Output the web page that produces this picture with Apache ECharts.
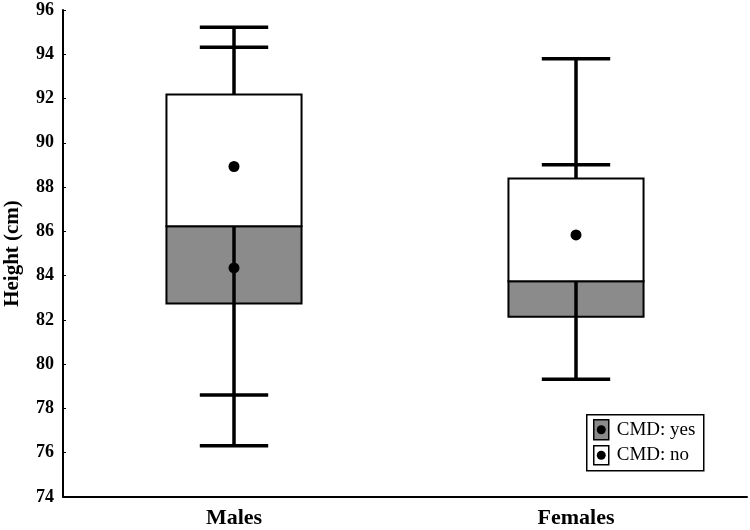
<!DOCTYPE html>
<html>
<head>
<meta charset="utf-8">
<script src="https://cdn.jsdelivr.net/npm/echarts@6/dist/echarts.min.js"></script>
<style>
	html, body { margin: 0; padding: 0; background: #fff; }
	#chart { width: 750px; height: 530px; }
</style>
</head>
<body>
<div id="chart"></div>
<script type="text/javascript">
	// 数据
	var categories = ['Males', 'Females'];
	var yTicks = [74, 96, 2];           // min, max, interval
	var yesBox = [[0, 82.74, 86.23], [1, 82.14, 83.75]];
	var noBox = [[0, 86.23, 92.18], [1, 83.75, 88.39]];
	var whiskers = [[0, 76.31, 95.22], [1, 79.32, 93.80]];
	var caps = [[0, 76.31], [0, 78.61], [0, 94.32], [0, 95.22], [1, 79.32], [1, 89.01], [1, 93.80]];
	var yesMean = [[0, 84.35]];
	var noMean = [[0, 88.93], [1, 85.84]];

	var serif = '"Liberation Serif", "DejaVu Serif", serif';
	var grey = '#8b8b8b';

	function boxRender(fill) {
		return function (params, api) {
			var lo = api.coord([api.value(0), api.value(1)]);
			var hi = api.coord([api.value(0), api.value(2)]);
			var w = api.size([1, 0])[0] * 0.395;
			return {
				type: 'rect',
				shape: { x: lo[0] - w / 2, y: hi[1], width: w, height: lo[1] - hi[1] },
				style: { fill: fill, stroke: '#000', lineWidth: 2 }
			};
		};
	}

	var myChart = echarts.init(document.getElementById('chart'));
	var option = {
		animation: false,
		grid: { left: 63, right: 3, top: 10, bottom: 33, containLabel: false, outerBoundsMode: 'none' },
		xAxis: {
			type: 'category',
			data: categories,
			axisLine: { lineStyle: { color: '#000', width: 2 } },
			axisTick: { inside: true, length: 3, alignWithLabel: true, lineStyle: { color: '#000' } },
			axisLabel: { color: '#000', fontFamily: serif, fontWeight: 'bold', fontSize: 22, margin: 10 }
		},
		yAxis: {
			type: 'value',
			min: yTicks[0],
			max: yTicks[1],
			interval: yTicks[2],
			name: 'Height (cm)',
			nameLocation: 'middle',
			nameGap: 40,
			nameTextStyle: { color: '#000', fontFamily: serif, fontWeight: 'bold', fontSize: 21 },
			splitLine: { show: false },
			axisLine: { show: true, lineStyle: { color: '#000', width: 2 } },
			axisTick: { show: true, inside: true, length: 3, lineStyle: { color: '#000' } },
			axisLabel: { color: '#000', fontFamily: serif, fontWeight: 'bold', fontSize: 18, margin: 9 }
		},
		series: [
			{
				name: 'CMD: yes',
				type: 'custom',
				z: 2,
				renderItem: boxRender(grey),
				data: yesBox
			},
			{
				type: 'custom',
				z: 3,
				renderItem: function (params, api) {
					var lo = api.coord([api.value(0), api.value(1)]);
					var hi = api.coord([api.value(0), api.value(2)]);
					return {
						type: 'line',
						shape: { x1: lo[0], y1: lo[1], x2: hi[0], y2: hi[1] },
						style: { stroke: '#000', lineWidth: 3.5 }
					};
				},
				data: whiskers
			},
			{
				type: 'custom',
				z: 3,
				renderItem: function (params, api) {
					var p = api.coord([api.value(0), api.value(1)]);
					var w = api.size([1, 0])[0] * 0.2;
					return {
						type: 'line',
						shape: { x1: p[0] - w / 2, y1: p[1], x2: p[0] + w / 2, y2: p[1] },
						style: { stroke: '#000', lineWidth: 3.5 }
					};
				},
				data: caps
			},
			{
				name: 'CMD: no',
				type: 'custom',
				z: 4,
				renderItem: boxRender('#fff'),
				data: noBox
			},
			{
				type: 'scatter',
				z: 5,
				symbolSize: 11,
				itemStyle: { color: '#000', opacity: 1 },
				data: yesMean
			},
			{
				type: 'scatter',
				z: 5,
				symbolSize: 11,
				itemStyle: { color: '#000', opacity: 1 },
				data: noMean
			}
		],
		// 图例
		graphic: [
			{
				type: 'group',
				left: 586,
				top: 414,
				children: [
					{ type: 'rect', shape: { x: 0, y: 0, width: 117, height: 56 }, style: { fill: '#fff', stroke: '#000', lineWidth: 1.5 } },
					{ type: 'rect', shape: { x: 7, y: 5, width: 15, height: 20 }, style: { fill: grey, stroke: '#000', lineWidth: 1.5 } },
					{ type: 'circle', shape: { cx: 14.5, cy: 15, r: 4.5 }, style: { fill: '#000' } },
					{ type: 'text', x: 30, y: 15, style: { text: 'CMD: yes', font: '19px ' + serif, fill: '#000', verticalAlign: 'middle' } },
					{ type: 'rect', shape: { x: 7, y: 31, width: 15, height: 19 }, style: { fill: '#fff', stroke: '#000', lineWidth: 1.5 } },
					{ type: 'circle', shape: { cx: 14.5, cy: 40.5, r: 4.5 }, style: { fill: '#000' } },
					{ type: 'text', x: 30, y: 40.5, style: { text: 'CMD: no', font: '19px ' + serif, fill: '#000', verticalAlign: 'middle' } }
				]
			}
		]
	};
	myChart.setOption(option);
</script>
</body>
</html>
